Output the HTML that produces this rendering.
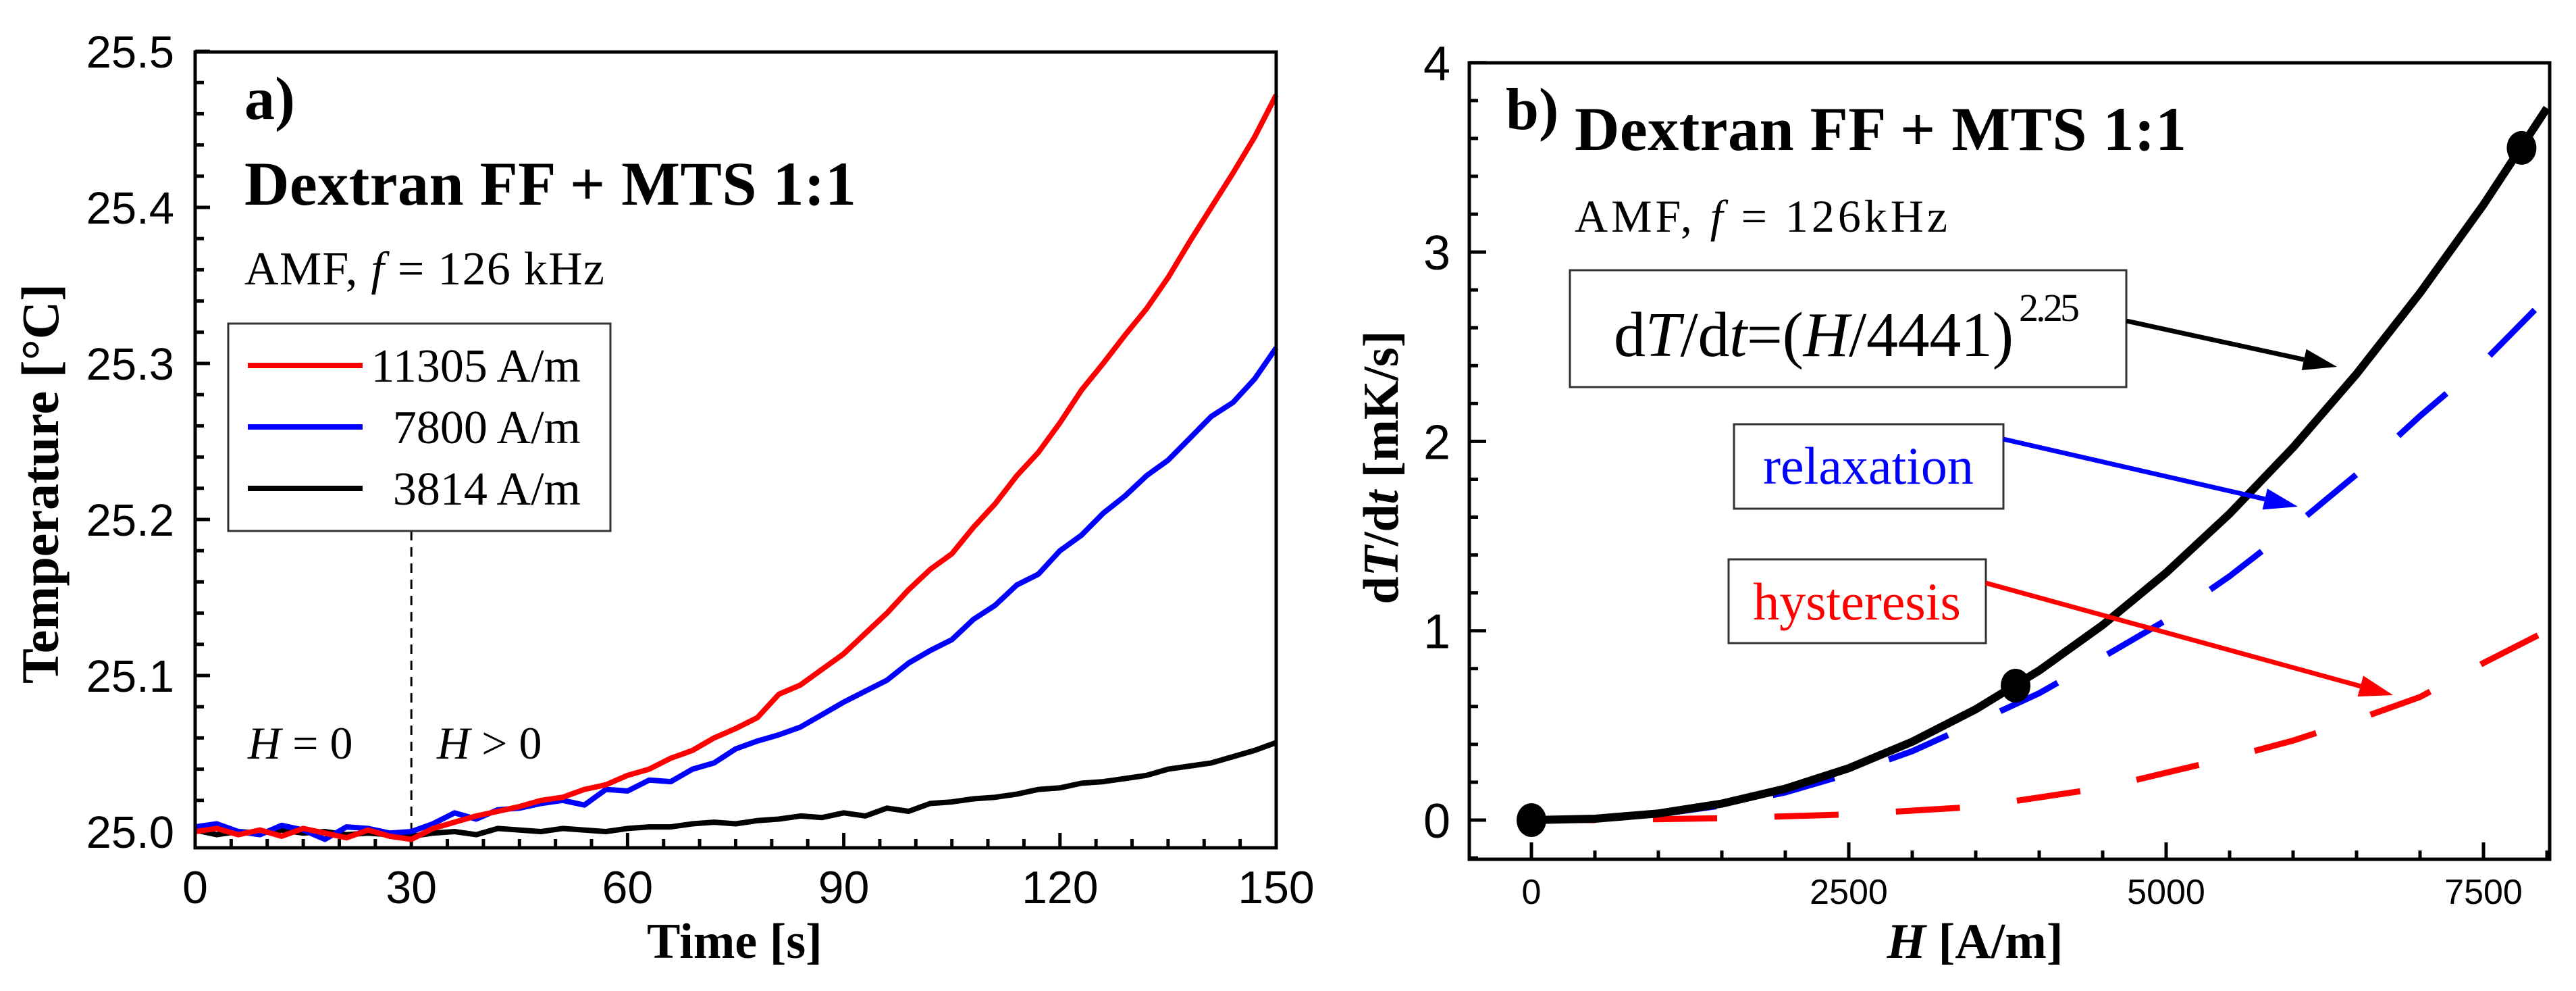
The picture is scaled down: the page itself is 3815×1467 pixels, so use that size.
<!DOCTYPE html>
<html><head><meta charset="utf-8"><style>
html,body{margin:0;padding:0;background:#fff}
svg{display:block}
.tn{font-family:"Liberation Sans",sans-serif;fill:#000}
.tm{font-family:"Liberation Serif",serif;fill:#000}
</style></head><body>
<svg id="fig" width="3815" height="1467" viewBox="0 0 3815 1467" xmlns="http://www.w3.org/2000/svg">
<rect width="3815" height="1467" fill="#fff"/>
<g id="pa"></g>
<g id="pb"></g>
</svg>
<script>
// ---------- Panel a data ----------
const timeS = [0,3,6,9,12,15,18,21,24,27,30,33,36,39,42,45,48,51,54,57,60,63,66,69,72,75,78,81,84,87,90,93,96,99,102,105,108,111,114,117,120,123,126,129,132,135,138,141,144,147,150];
const temp11305 = [25.000,25.002,24.998,25.001,24.997,25.002,24.999,24.996,25.001,24.997,24.995,25.002,25.006,25.010,25.013,25.016,25.020,25.022,25.027,25.030,25.036,25.040,25.047,25.052,25.060,25.066,25.073,25.088,25.094,25.104,25.114,25.127,25.140,25.155,25.168,25.178,25.195,25.210,25.228,25.243,25.262,25.283,25.300,25.318,25.335,25.355,25.378,25.400,25.422,25.445,25.472];
const temp7800 = [25.003,25.005,25.000,24.998,25.004,25.001,24.995,25.003,25.002,24.999,25.000,25.005,25.012,25.008,25.014,25.015,25.018,25.020,25.017,25.027,25.026,25.033,25.032,25.040,25.044,25.053,25.058,25.062,25.067,25.075,25.083,25.090,25.097,25.108,25.116,25.123,25.136,25.145,25.158,25.165,25.180,25.190,25.204,25.215,25.228,25.238,25.252,25.266,25.275,25.290,25.310];
const temp3814 = [25.001,24.998,25.000,24.999,25.001,24.999,25.000,24.998,24.999,24.998,24.997,24.999,25.000,24.998,25.002,25.001,25.000,25.002,25.001,25.000,25.002,25.003,25.003,25.005,25.006,25.005,25.007,25.008,25.010,25.009,25.012,25.010,25.015,25.013,25.018,25.019,25.021,25.022,25.024,25.027,25.028,25.031,25.032,25.034,25.036,25.040,25.042,25.044,25.048,25.052,25.057];
const aXTicks = [0,30,60,90,120,150];
const aYTicks = [25.0,25.1,25.2,25.3,25.4,25.5];
const aYTickLabels = ["25.0","25.1","25.2","25.3","25.4","25.5"];
const aLegend = ["11305 A/m","7800 A/m","3814 A/m"];
// ---------- Panel b data ----------
const fieldH = [0,500,1000,1500,2000,2500,3000,3500,4000,4500,5000,5500,6000,6500,7000,7500,8000];
const totalRate = [0,0.0073,0.035,0.087,0.166,0.274,0.414,0.585,0.790,1.030,1.306,1.618,1.968,2.356,2.784,3.25,3.76];
const relaxRate = [0,0.007,0.03,0.077,0.146,0.244,0.364,0.515,0.67,0.86,1.056,1.288,1.548,1.826,2.134,2.42,2.76];
const hystRate = [0,0,0.005,0.01,0.02,0.03,0.05,0.07,0.12,0.17,0.25,0.33,0.42,0.53,0.65,0.83,1.0];
const pointH = [0,3814,7800];
const pointRate = [0,0.71,3.55];
const bXTicks = [0,2500,5000,7500];
const bYTicks = [0,1,2,3,4];

const NS="http://www.w3.org/2000/svg";
function mk(parent,tag,attrs,text){const e=document.createElementNS(NS,tag);for(const k in attrs)e.setAttribute(k,attrs[k]);if(text!==undefined)e.textContent=text;parent.appendChild(e);return e;}

// ===== Panel a =====
const pa=document.getElementById('pa');
const aL=289,aR=1890,aT=77,aB=1255;
const ax=t=>aL+(t-0)/150*(aR-aL);
const ay=v=>1231-(v-25.0)/0.1*231;
for(let t=0;t<=150;t+=5){const isM=t%30===0;const l=mk(pa,'line',{x1:ax(t),x2:ax(t),y1:aB,y2:aB-(isM?22:13),stroke:'#000','stroke-width':5});
}
for(let i=0;i<=25;i++){const v=25.0+i*0.02;const isM=i%5===0;const l=mk(pa,'line',{x1:aL,x2:aL+(isM?22:13),y1:ay(v),y2:ay(v),stroke:'#000','stroke-width':5});
}
aXTicks.forEach(t=>{const e=mk(pa,'text',{x:ax(t),y:1337,'font-size':68,'text-anchor':'middle',class:'tn'},String(t));
});
aYTicks.forEach((v,i)=>{const e=mk(pa,'text',{x:258,y:ay(v)+24,'font-size':67,'text-anchor':'end',class:'tn'},aYTickLabels[i]);
});
function series(g,xs,ys,fx,fy,color,w,name,dash){const d=xs.map((x,i)=>(i?'L':'M')+fx(x).toFixed(1)+','+fy(ys[i]).toFixed(1)).join('');
const p=mk(g,'path',{d:d,fill:'none',stroke:color,'stroke-width':w,'stroke-linejoin':'round'});if(dash)p.setAttribute('stroke-dasharray',dash);
return p;}
let dl=mk(pa,'line',{x1:ax(30),x2:ax(30),y1:786,y2:aB,stroke:'#000','stroke-width':3,'stroke-dasharray':'14,10'});

series(pa,timeS,temp3814,ax,ay,'#000',8,'line-3814');
series(pa,timeS,temp7800,ax,ay,'#0000ff',8,'line-7800');
series(pa,timeS,temp11305,ax,ay,'#ff0000',8,'line-11305');
let fr=mk(pa,'rect',{x:aL,y:aT,width:aR-aL,height:aB-aT,fill:'none',stroke:'#000','stroke-width':5});

let t1=mk(pa,'text',{x:362,y:176,'font-size':90,'font-weight':'bold',class:'tm'},'a)');

let t2=mk(pa,'text',{x:362,y:303,'font-size':92,'font-weight':'bold',class:'tm',textLength:906},'Dextran FF + MTS 1:1');

let t3=mk(pa,'text',{x:362,y:421,'font-size':70,class:'tm',textLength:533});
t3.innerHTML='AMF, <tspan font-style="italic">f</tspan> = 126 kHz';

let lg=mk(pa,'g',{});
mk(lg,'rect',{x:338,y:479,width:566,height:307,fill:'#fff',stroke:'#333','stroke-width':3});
const lc=['#ff0000','#0000ff','#000'];const ly=[541,632,723];
aLegend.forEach((s,i)=>{const en=mk(lg,'g',{});
mk(en,'line',{x1:367,x2:537,y1:ly[i],y2:ly[i],stroke:lc[i],'stroke-width':8});
mk(en,'text',{x:860,y:ly[i]+24,'font-size':70,'text-anchor':'end',class:'tm'},s);});
let h0=mk(pa,'text',{x:367,y:1123,'font-size':68,class:'tm'});h0.innerHTML='<tspan font-style="italic">H</tspan> = 0';

let h1=mk(pa,'text',{x:647,y:1123,'font-size':68,class:'tm'});h1.innerHTML='<tspan font-style="italic">H</tspan> &gt; 0';

let xt=mk(pa,'text',{x:1088,y:1418,'font-size':74,'font-weight':'bold','text-anchor':'middle',class:'tm'},'Time [s]');

let yt=mk(pa,'text',{x:0,y:0,'font-size':78,'font-weight':'bold','text-anchor':'middle',class:'tm',transform:'translate(86,716) rotate(-90)'},'Temperature [°C]');


// ===== Panel b =====
const pb=document.getElementById('pb');
const bL=2176,bR=3776,bT=93,bB=1272;
const bx=h=>2268+h/2500*470;
const by=v=>1214-v*280.3;
for(let h=0;h<=8000;h+=500){const isM=h%2500===0;const l=mk(pb,'line',{x1:bx(h),x2:bx(h),y1:bB,y2:bB-(isM?25:13),stroke:'#000','stroke-width':5});
}
for(let i=-1;i<=20;i++){const v=i*0.2;const isM=i%5===0;const l=mk(pb,'line',{x1:bL,x2:bL+(isM?25:13),y1:by(v),y2:by(v),stroke:'#000','stroke-width':5});
}
bXTicks.forEach(h=>{const e=mk(pb,'text',{x:bx(h),y:1338,'font-size':52,'text-anchor':'middle',class:'tn'},String(h));
});
bYTicks.forEach(v=>{const e=mk(pb,'text',{x:2148,y:by(v)+26,'font-size':72,'text-anchor':'end',class:'tn'},String(v));
});
let cl=mk(pb,'clipPath',{id:'cb'});mk(cl,'rect',{x:bL,y:bT,width:bR-bL,height:bB-bT});
let sg=mk(pb,'g',{'clip-path':'url(#cb)'});
series(sg,fieldH,relaxRate,bx,by,'#0000ff',9,'relaxation-curve','95,85');
series(sg,fieldH,hystRate,bx,by,'#ff0000',9,'hysteresis-curve','95,85');
series(sg,fieldH,totalRate,bx,by,'#000',12,'total-fit-curve');
pointH.forEach((h,i)=>{const c=mk(sg,'ellipse',{cx:bx(h),cy:by(pointRate[i]),rx:22,ry:25,fill:'#000'});
});
let frb=mk(pb,'rect',{x:bL,y:bT,width:bR-bL,height:bB-bT,fill:'none',stroke:'#000','stroke-width':5});

let b1=mk(pb,'text',{x:2230,y:191,'font-size':88,'font-weight':'bold',class:'tm'},'b)');

let b2=mk(pb,'text',{x:2332,y:222,'font-size':92,'font-weight':'bold',class:'tm',textLength:906},'Dextran FF + MTS 1:1');

let b3=mk(pb,'text',{x:2332,y:343,'font-size':68,class:'tm',textLength:552});
b3.innerHTML='AMF,  <tspan font-style="italic">f</tspan> = 126kHz';

function box(x,y,w,h,name){const r=mk(pb,'rect',{x:x,y:y,width:w,height:h,fill:'#fff',stroke:'#333','stroke-width':3});}
function arrow(x1,y1,x2,y2,color,name){const g=mk(pb,'g',{});
const a=Math.atan2(y2-y1,x2-x1),L=50,W=16;const bx2=x2-L*Math.cos(a),by2=y2-L*Math.sin(a);
mk(g,'line',{x1:x1,y1:y1,x2:bx2,y2:by2,stroke:color,'stroke-width':7});
mk(g,'polygon',{points:`${x2},${y2} ${bx2-W*Math.sin(a)},${by2+W*Math.cos(a)} ${bx2+W*Math.sin(a)},${by2-W*Math.cos(a)}`,fill:color});}
box(2325,400,824,173,'formula-box');
let fm=mk(pb,'text',{x:2390,y:527,'font-size':94,class:'tm',textLength:592});
fm.innerHTML='d<tspan font-style="italic">T</tspan>/d<tspan font-style="italic">t</tspan>=(<tspan font-style="italic">H</tspan>/4441)';

let sp=mk(pb,'text',{x:2990,y:475,'font-size':58,class:'tm',textLength:90},'2.25');

arrow(3149,475,3461,543,'#000','formula-arrow');
box(2568,628,399,125,'relaxation-box');
let rl=mk(pb,'text',{x:2767,y:716,'font-size':78,'text-anchor':'middle',class:'tm',style:'fill:#0000ff'},'relaxation');

arrow(2967,650,3403,750,'#0000ff','relaxation-arrow');
box(2560,828,381,124,'hysteresis-box');
let hl=mk(pb,'text',{x:2750,y:917,'font-size':78,'text-anchor':'middle',class:'tm',style:'fill:#ff0000'},'hysteresis');

arrow(2941,863,3544,1029,'#ff0000','hysteresis-arrow');
let bxt=mk(pb,'text',{x:2925,y:1418,'font-size':74,'font-weight':'bold','text-anchor':'middle',class:'tm'});
bxt.innerHTML='<tspan font-style="italic">H</tspan> [A/m]';

let byt=mk(pb,'text',{x:0,y:0,'font-size':74,'font-weight':'bold','text-anchor':'middle',class:'tm',transform:'translate(2070,692) rotate(-90)'});
byt.innerHTML='d<tspan font-style="italic">T</tspan>/d<tspan font-style="italic">t</tspan> [mK/s]';

</script>
</body></html>
